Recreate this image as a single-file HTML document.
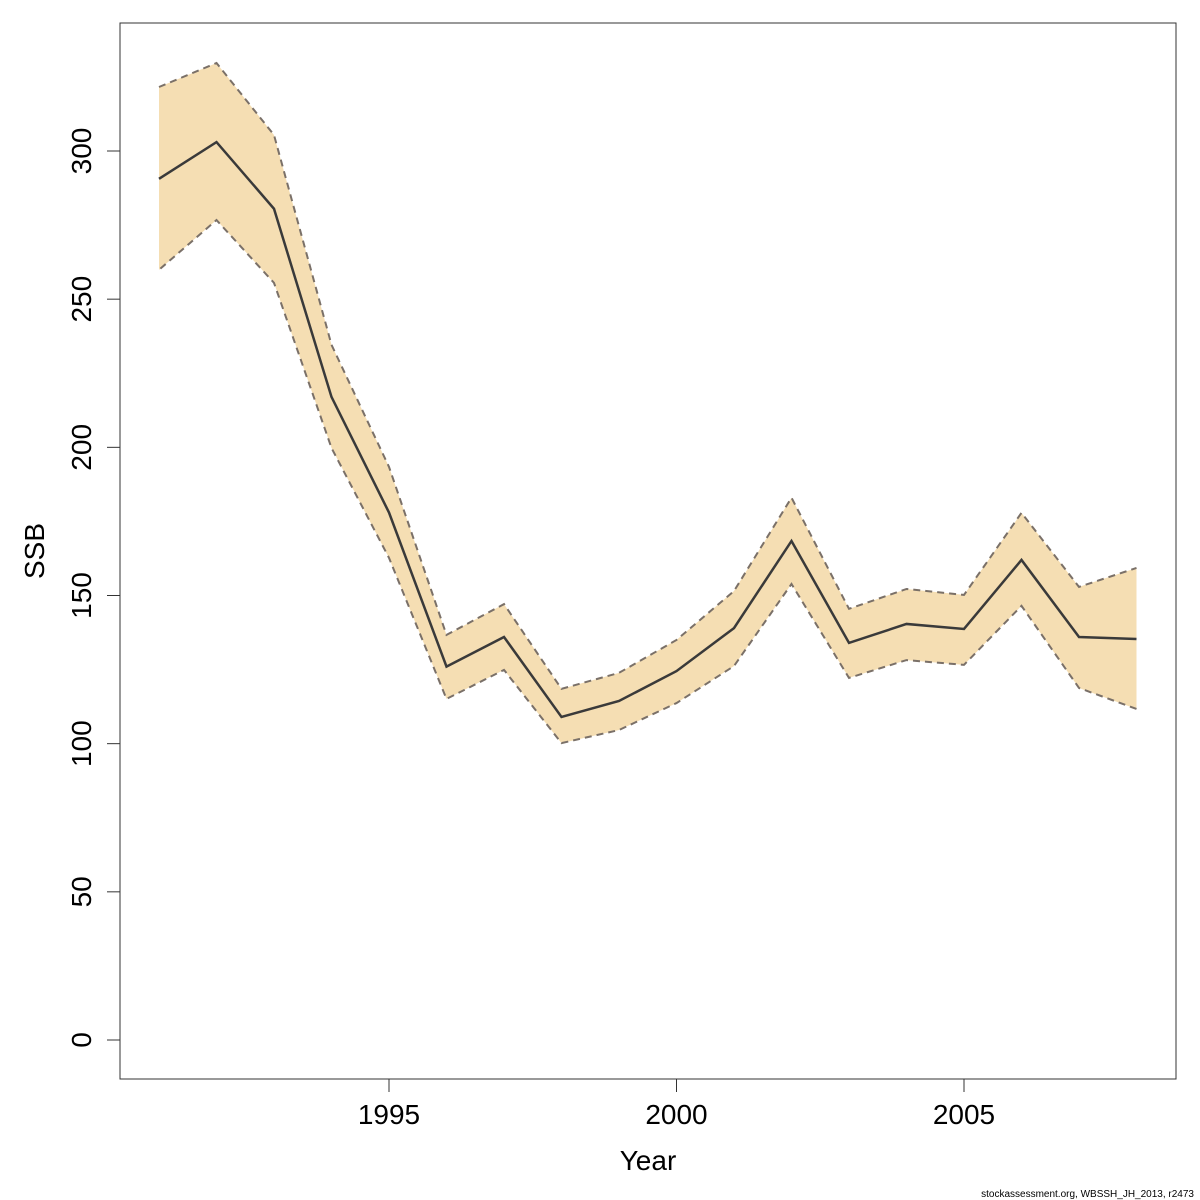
<!DOCTYPE html>
<html><head><meta charset="utf-8"><style>
html,body{margin:0;padding:0;background:#fff;}
svg{display:block;font-family:"Liberation Sans","DejaVu Sans",sans-serif;}
</style></head><body>
<svg id="chart" width="1200" height="1200" viewBox="0 0 1200 1200">
<rect x="120" y="23" width="1056" height="1056" fill="none" stroke="#333" stroke-width="1"/>
<g id="marks"></g>
<g id="axes"></g>
<text x="648" y="1170" font-size="28" text-anchor="middle">Year</text>
<text x="0" y="0" font-size="28" text-anchor="middle" transform="translate(44,551) rotate(-90)">SSB</text>
<text x="1194" y="1197" font-size="10" text-anchor="end">stockassessment.org, WBSSH_JH_2013, r2473</text>
</svg>
<script>
const years=[1991,1992,1993,1994,1995,1996,1997,1998,1999,2000,2001,2002,2003,2004,2005,2006,2007,2008];
const ssb=[290.6,303,280.5,217,178,126,136,109,114.4,124.5,139,168.4,134,140.4,138.7,162,136,135.3];
const upper=[321.6,329.7,305.4,234.6,193.4,136.7,147.1,118.5,123.9,135,151.5,183,145.5,152.2,150.2,177.9,152.9,159.3];
const lower=[259.9,276.7,255.5,199.8,162.7,115.1,124.9,100.2,104.6,113.7,126.2,153.9,122.2,128.2,126.6,146.5,118.8,111.7];
const xTicks=[1995,2000,2005];
const yTicks=[0,50,100,150,200,250,300];

const NS="http://www.w3.org/2000/svg";
function xs(v){return 389+(v-1995)*(964-389)/10;}
function ys(v){return 1040-v*(1040-151)/300;}
function mk(tag,attrs,parent){const e=document.createElementNS(NS,tag);for(const k in attrs)e.setAttribute(k,attrs[k]);parent.appendChild(e);return e;}
const marks=document.getElementById('marks'),axes=document.getElementById('axes');

const up=years.map((y,i)=>xs(y)+','+ys(upper[i]));
const lo=years.map((y,i)=>xs(y)+','+ys(lower[i])).reverse();
const band=mk('polygon',{points:up.concat(lo).join(' '),fill:'#f5deb3',stroke:'none'},marks);


const ul=mk('polyline',{points:up.join(' '),fill:'none',stroke:'#7a7068','stroke-width':2,'stroke-dasharray':'7,5'},marks);


const ll=mk('polyline',{points:lo.join(' '),fill:'none',stroke:'#7a7068','stroke-width':2,'stroke-dasharray':'7,5'},marks);


const ml=mk('polyline',{points:years.map((y,i)=>xs(y)+','+ys(ssb[i])).join(' '),fill:'none',stroke:'#3a3a3a','stroke-width':2.5},marks);



xTicks.forEach(t=>{
  const l=mk('line',{x1:xs(t),x2:xs(t),y1:1079,y2:1092,stroke:'#333'},axes);
  
  
  const tx=mk('text',{x:xs(t),y:1124,'font-size':28,'text-anchor':'middle'},axes);
  tx.textContent=t;
  
  
});
yTicks.forEach(t=>{
  const l=mk('line',{x1:107,x2:120,y1:ys(t),y2:ys(t),stroke:'#333'},axes);
  
  
  const tx=mk('text',{x:0,y:0,'font-size':28,'text-anchor':'middle',transform:'translate(91,'+ys(t)+') rotate(-90)'},axes);
  tx.textContent=t;
  
  
});
</script>
</body></html>
